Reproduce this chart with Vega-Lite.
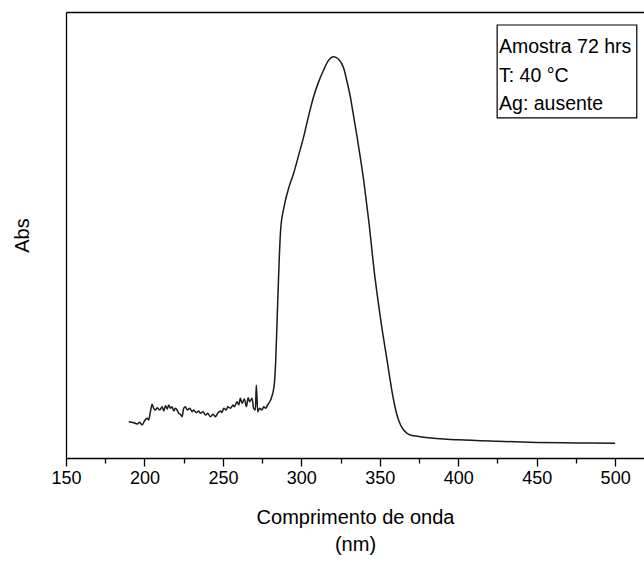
{
  "$schema": "https://vega.github.io/schema/vega-lite/v6.json",
  "width": 578,
  "height": 446,
  "autosize": {"type": "none"},
  "padding": {"left": 66, "top": 12, "right": 0, "bottom": 126},
  "background": "white",
  "config": {
    "view": {"stroke": null},
    "font": "Liberation Sans",
    "axis": {"grid": false, "domainColor": "black", "domainWidth": 1.3, "tickColor": "black", "labelColor": "black", "titleColor": "black", "titleFontWeight": "normal", "labelFont": "Liberation Sans", "titleFont": "Liberation Sans"}
  },
  "datasets": {
    "spectrum": [
      {"nm": 190.0, "abs": 0.0977}, {"nm": 193.2, "abs": 0.0950}, {"nm": 195.4, "abs": 0.0915}, {"nm": 197.0, "abs": 0.0961},
      {"nm": 198.5, "abs": 0.0888}, {"nm": 200.0, "abs": 0.0996}, {"nm": 201.7, "abs": 0.1068}, {"nm": 202.7, "abs": 0.1023},
      {"nm": 203.8, "abs": 0.1246}, {"nm": 204.9, "abs": 0.1445}, {"nm": 205.9, "abs": 0.1337}, {"nm": 207.0, "abs": 0.1292},
      {"nm": 208.1, "abs": 0.1353}, {"nm": 209.7, "abs": 0.1292}, {"nm": 211.3, "abs": 0.1380}, {"nm": 212.3, "abs": 0.1265},
      {"nm": 213.4, "abs": 0.1407}, {"nm": 214.5, "abs": 0.1319}, {"nm": 215.5, "abs": 0.1426}, {"nm": 216.6, "abs": 0.1337},
      {"nm": 217.6, "abs": 0.1380}, {"nm": 218.7, "abs": 0.1265}, {"nm": 219.7, "abs": 0.1337}, {"nm": 220.8, "abs": 0.1292},
      {"nm": 221.8, "abs": 0.1203}, {"nm": 222.9, "abs": 0.1176}, {"nm": 224.0, "abs": 0.1111}, {"nm": 225.0, "abs": 0.1337},
      {"nm": 226.1, "abs": 0.1380}, {"nm": 227.2, "abs": 0.1292}, {"nm": 228.9, "abs": 0.1337}, {"nm": 230.4, "abs": 0.1246},
      {"nm": 231.4, "abs": 0.1292}, {"nm": 233.1, "abs": 0.1219}, {"nm": 234.6, "abs": 0.1265}, {"nm": 235.7, "abs": 0.1203},
      {"nm": 237.4, "abs": 0.1246}, {"nm": 238.9, "abs": 0.1157}, {"nm": 240.3, "abs": 0.1203}, {"nm": 242.0, "abs": 0.1111},
      {"nm": 243.8, "abs": 0.1176}, {"nm": 245.2, "abs": 0.1111}, {"nm": 246.7, "abs": 0.1203}, {"nm": 248.4, "abs": 0.1265},
      {"nm": 249.5, "abs": 0.1230}, {"nm": 250.5, "abs": 0.1337}, {"nm": 252.2, "abs": 0.1292}, {"nm": 253.1, "abs": 0.1380},
      {"nm": 254.8, "abs": 0.1337}, {"nm": 256.5, "abs": 0.1426}, {"nm": 257.3, "abs": 0.1380}, {"nm": 259.0, "abs": 0.1515},
      {"nm": 260.1, "abs": 0.1426}, {"nm": 261.1, "abs": 0.1607}, {"nm": 262.2, "abs": 0.1472}, {"nm": 263.7, "abs": 0.1588},
      {"nm": 265.0, "abs": 0.1380}, {"nm": 266.1, "abs": 0.1623}, {"nm": 267.1, "abs": 0.1515}, {"nm": 268.6, "abs": 0.1607},
      {"nm": 269.6, "abs": 0.1337}, {"nm": 270.7, "abs": 0.1292}, {"nm": 271.3, "abs": 0.1964}, {"nm": 272.2, "abs": 0.1246},
      {"nm": 273.4, "abs": 0.1337}, {"nm": 275.0, "abs": 0.1292}, {"nm": 276.0, "abs": 0.1380}, {"nm": 277.3, "abs": 0.1337},
      {"nm": 278.5, "abs": 0.1426}, {"nm": 280.4, "abs": 0.1561}, {"nm": 282.6, "abs": 0.1919}, {"nm": 283.6, "abs": 0.2548},
      {"nm": 284.7, "abs": 0.3894}, {"nm": 285.8, "abs": 0.5239}, {"nm": 286.8, "abs": 0.6135}, {"nm": 289.0, "abs": 0.6762},
      {"nm": 292.2, "abs": 0.7301}, {"nm": 295.1, "abs": 0.7661}, {"nm": 298.3, "abs": 0.8150}, {"nm": 301.5, "abs": 0.8646},
      {"nm": 304.6, "abs": 0.9200}, {"nm": 307.8, "abs": 0.9722}, {"nm": 311.0, "abs": 1.0120}, {"nm": 314.2, "abs": 1.0441},
      {"nm": 317.2, "abs": 1.0690}, {"nm": 320.6, "abs": 1.0799}, {"nm": 323.6, "abs": 1.0737},
      {"nm": 326.9, "abs": 1.0500}, {"nm": 329.0, "abs": 1.0150}, {"nm": 331.2, "abs": 0.9722}, {"nm": 333.3, "abs": 0.9200},
      {"nm": 335.5, "abs": 0.8646}, {"nm": 337.6, "abs": 0.8080}, {"nm": 339.7, "abs": 0.7481},
      {"nm": 341.3, "abs": 0.6943}, {"nm": 343.2, "abs": 0.6300}, {"nm": 346.1, "abs": 0.5148}, {"nm": 350.3, "abs": 0.3802},
      {"nm": 354.6, "abs": 0.2637}, {"nm": 358.8, "abs": 0.1561}, {"nm": 361.0, "abs": 0.1150}, {"nm": 363.1, "abs": 0.0900},
      {"nm": 365.5, "abs": 0.0740}, {"nm": 369.4, "abs": 0.0619},
      {"nm": 375.8, "abs": 0.0573}, {"nm": 388.5, "abs": 0.0519}, {"nm": 400.0, "abs": 0.0490}, {"nm": 425.0, "abs": 0.0450},
      {"nm": 450.0, "abs": 0.0420}, {"nm": 475.0, "abs": 0.0405}, {"nm": 500.0, "abs": 0.0396}
    ],
    "box": [{"x1": 424.8, "x2": 513.8, "y1": 0.915, "y2": 1.165}],
    "notes": [
      {"x": 426.0, "y": 1.106, "text": "Amostra 72 hrs"},
      {"x": 426.0, "y": 1.028, "text": "T: 40 °C"},
      {"x": 426.0, "y": 0.953, "text": "Ag: ausente"}
    ]
  },
  "resolve": {"axis": {"x": "independent"}},
  "layer": [
    {
      "data": {"name": "spectrum"},
      "mark": {"type": "line", "color": "#1a1a1a", "strokeWidth": 1.5, "clip": true, "interpolate": "monotone"},
      "encoding": {
        "x": {
          "field": "nm", "type": "quantitative",
          "scale": {"domain": [150, 518.4], "nice": false, "zero": false},
          "axis": {
            "orient": "bottom",
            "title": ["Comprimento de onda", "(nm)"],
            "titleFontSize": 20, "titlePadding": 20, "titleLineHeight": 27,
            "labelFontSize": 18, "labelPadding": 3,
            "values": [150, 175, 200, 225, 250, 275, 300, 325, 350, 375, 400, 425, 450, 475, 500],
            "labelExpr": "datum.value % 50 === 0 ? datum.label : ''",
            "tickSize": {"condition": {"test": "datum.value % 50 === 0", "value": 8}, "value": 5},
            "tickWidth": 1.3,
            "labelFlush": false, "labelOverlap": false
          }
        },
        "y": {
          "field": "abs", "type": "quantitative",
          "scale": {"domain": [0, 1.2], "nice": false, "zero": false},
          "axis": {"title": "Abs", "titleFontSize": 20, "labels": false, "ticks": false, "titlePadding": 34}
        }
      }
    },
    {
      "data": {"name": "box"},
      "mark": {"type": "rect", "fill": "white", "stroke": "black", "strokeWidth": 1.2},
      "encoding": {
        "x": {"field": "x1", "type": "quantitative", "axis": {"orient": "top", "title": null, "labels": false, "ticks": false, "domainWidth": 1.3}},
        "x2": {"field": "x2"},
        "y": {"field": "y1", "type": "quantitative"},
        "y2": {"field": "y2"}
      }
    },
    {
      "data": {"name": "notes"},
      "mark": {"type": "text", "align": "left", "baseline": "middle", "fontSize": 19.5, "font": "Liberation Sans", "color": "black"},
      "encoding": {
        "x": {"field": "x", "type": "quantitative", "axis": null},
        "y": {"field": "y", "type": "quantitative"},
        "text": {"field": "text"}
      }
    }
  ]
}
